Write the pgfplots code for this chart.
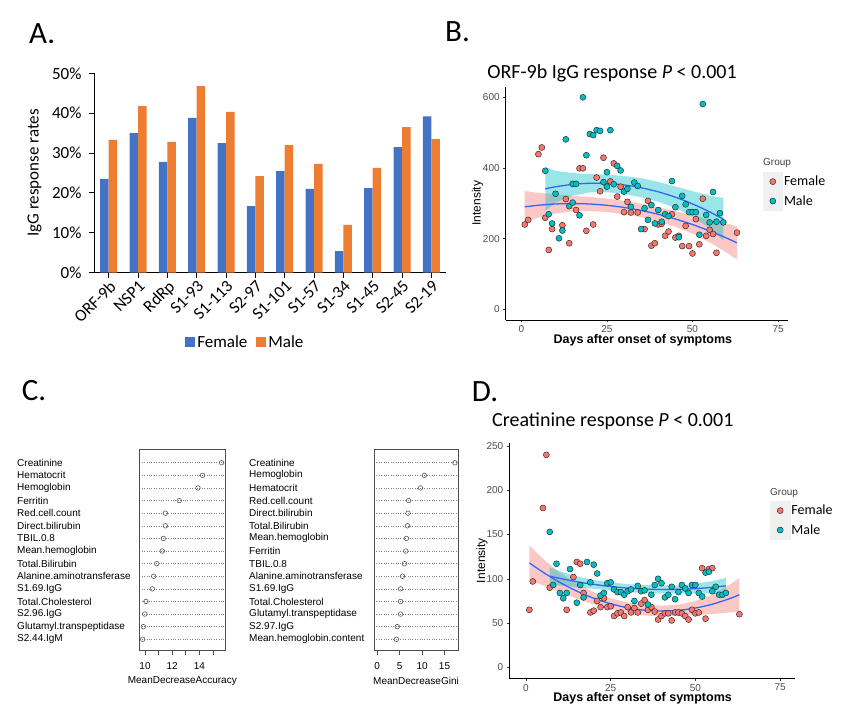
\documentclass[border=0pt]{standalone}
\usepackage{fontspec}
\setmainfont{Liberation Sans}
\newfontfamily\calibri{Carlito}
\newfontfamily\arial{Liberation Sans}
\usepackage{pgfplots}
\pgfplotsset{compat=1.18}
\definecolor{fem}{HTML}{4472C4}
\definecolor{mal}{HTML}{ED7D31}
\definecolor{gF}{HTML}{F8766D}
\definecolor{gM}{HTML}{00BFC4}
\definecolor{fitblue}{HTML}{3366FF}
\newcommand{\fs}[1]{\fontsize{#1}{#1}\selectfont}
\pgfplotsset{
  sqlegend/.style={legend image code/.code={\fill[##1] (0pt,-5pt) rectangle (10pt,5pt);}},
  gglegend/.style={legend image code/.code={\fill[black!6] (0pt,-9.5pt) rectangle (19.6pt,9.5pt);
      \draw[##1] plot coordinates {(9.8pt,0pt)};}},
  ggaxis/.style={scale only axis, anchor=south west,
    axis x line*=bottom, axis y line*=left,
    axis line style={black, line width=0.7pt},
    tick align=outside, major tick length=2.5pt, tick style={black!80, line width=0.6pt},
    xtick={0,25,50,75},
    tick label style={font=\arial\fs{10}, text=black!70},
    /pgf/number format/assume math mode=true,
    xlabel={Days after onset of symptoms},
    ylabel={Intensity},
    legend style={draw=none, fill=none, font=\calibri\fs{14}, anchor=north west,
      row sep=0pt, inner sep=0pt, nodes={inner sep=1.2pt}},
    legend cell align=left},
  ggF/.style={only marks, mark=*, mark size=3pt, mark options={fill=gF, draw=black!85, line width=0.45pt}, gglegend},
  ggM/.style={only marks, mark=*, mark size=3pt, mark options={fill=gM, draw=black!85, line width=0.45pt}, gglegend},
  rfaxis/.style={scale only axis, anchor=south west, height=201pt,
    ymin=0.15, ymax=16.09,
    axis line style={black!70, line width=0.8pt},
    xtick pos=left, tick align=outside, major tick length=5pt,
    xtick style={black!70, line width=0.8pt},
    ytick={1,...,15}, ytick style={draw=none},
    ymajorgrids, grid style={dotted, gray, line width=0.6pt},
    yticklabel style={anchor=west, font=\arial\fs{10}},
    xticklabel style={font=\arial\fs{10}, yshift=-4pt},
    /pgf/number format/assume math mode=true,
    xlabel style={font=\arial\fs{10}, at={(axis description cs:0.5,-0.155)}, anchor=center}},
}
\begin{document}
\begin{tikzpicture}
\useasboundingbox (0pt,0pt) rectangle (850pt,-715pt);
% panel letters
\node[font=\calibri\fs{31}, inner sep=0pt, anchor=base west] at (29pt,-43.3pt) {A.};
\node[font=\calibri\fs{31}, inner sep=0pt, anchor=base west] at (445pt,-41.7pt) {B.};
\node[font=\calibri\fs{31}, inner sep=0pt, anchor=base west] at (21.7pt,-400pt) {C.};
\node[font=\calibri\fs{31}, inner sep=0pt, anchor=base west] at (471.7pt,-401.7pt) {D.};
% titles
\node[font=\calibri\fs{20}, inner sep=0pt, anchor=base] at (612pt,-78.5pt) {ORF-9b IgG response \textit{P} < 0.001};
\node[font=\calibri\fs{20}, inner sep=0pt, anchor=base] at (612.8pt,-426.7pt) {Creatinine response \textit{P} < 0.001};
\node[font=\arial\fs{10}, text=black!75, anchor=west, inner sep=0pt] at (763pt,-163pt) {Group};
\node[font=\arial\fs{10}, text=black!75, anchor=west, inner sep=0pt] at (770pt,-493pt) {Group};

% ---------------- Panel A ----------------
\begin{axis}[
  at={(94pt,-272.7pt)}, anchor=south west, scale only axis,
  width=352pt, height=199.4pt,
  xmin=-0.5, xmax=11.5, ymin=0, ymax=50,
  ybar=0pt, bar width=8.5pt,
  axis x line*=bottom, axis y line*=left,
  axis line style={black, line width=1pt},
  tick align=outside, major tick length=5pt,
  tick style={black, line width=1pt},
  xtick={0,...,11},
  xticklabels={ORF-9b,NSP1,RdRp,S1-93,S1-113,S2-97,S1-101,S1-57,S1-34,S1-45,S2-45,S2-19},
  xticklabel style={rotate=45, anchor=north east, font=\calibri\fs{17}, inner sep=1pt},
  ytick={0,10,20,30,40,50},
  yticklabels={0\%,10\%,20\%,30\%,40\%,50\%},
  yticklabel style={font=\calibri\fs{17}, xshift=-4pt},
  ylabel={IgG response rates},
  ylabel style={font=\calibri\fs{17}, at={(axis description cs:-0.169,0.5)}, anchor=center},
  legend style={at={(axis description cs:0.430,-0.3475)}, anchor=center, draw=none,
    legend columns=2, font=\calibri\fs{17}, nodes={inner sep=2.5pt},
    /tikz/every even column/.append style={column sep=6pt}},
  sqlegend,
]
\addplot[fill=fem, draw=none, sqlegend] coordinates {
(0,23.5) (1,35.0) (2,27.8) (3,38.8) (4,32.5) (5,16.7) (6,25.5) (7,21.0) (8,5.4) (9,21.2) (10,31.5) (11,39.2)};
\addplot[fill=mal, draw=none, sqlegend] coordinates {
(0,33.3) (1,41.8) (2,32.8) (3,46.8) (4,40.3) (5,24.2) (6,32.0) (7,27.3) (8,12.0) (9,26.3) (10,36.5) (11,33.5)};
\legend{Female,Male}
\end{axis}

% ---------------- Panel B ----------------
\begin{axis}[ggaxis,
  at={(505.7pt,-319.9pt)}, width=282.3pt, height=233.2pt,
  xmin=-4.56, xmax=77.9, ymin=-30, ymax=630,
  ytick={0,200,400,600},
  xlabel style={font=\arial\bfseries\fs{12.5}, at={(axis description cs:0.486,-0.0862)}, anchor=center},
  ylabel style={font=\arial\fs{12}, at={(axis description cs:-0.0995,0.5)}, anchor=center},
  legend style={at={(axis description cs:0.910,0.6355)}},
]
\addplot[ggF] coordinates {
(1,240) (2,253) (5,439) (6,458) (7,259) (8,168) (9,227) (12,238) (13,312) (14,187)
(16,281) (17,399) (18,399) (19,222) (21,240) (22,373) (23,334) (24,429) (26,362) (27,413)
(28,319) (29,347) (30,275) (31,304) (32,274) (34,274) (36,227) (37,307) (38,180) (39,187)
(40,240) (41,242) (42,208) (43,220) (44,269) (45,203) (46,208) (47,179) (48,236) (49,179)
(50,158) (51,255) (52,184) (53,313) (54,208) (55,225) (56,213) (57,160) (63,217)};
\addplot[ggM] coordinates {
(7,392) (8,269) (9,243) (10,327) (11,201) (12,223) (13,481) (14,292) (15,355) (15,302)
(16,355) (17,266) (18,600) (19,436) (20,496) (21,493) (22,507) (23,505) (24,360) (25,388)
(25,347) (26,507) (27,354) (28,406) (29,393) (30,333) (31,341) (32,290) (33,359) (34,349)
(35,227) (36,286) (37,253) (38,295) (39,243) (40,281) (41,248) (42,269) (43,264) (44,363)
(45,289) (46,204) (47,321) (48,297) (49,275) (50,275) (51,275) (52,211) (53,581) (54,267)
(55,246) (56,332) (57,248) (58,272) (59,246)};
\legend{Female,Male}
% confidence bands (upper then lower reversed)
\addplot[fill=gF, fill opacity=0.4, draw=none, forget plot] coordinates {
(1,335) (5,329.5) (10,325.1) (15,321.2) (20,318) (25,313.3) (30,307.3) (35,298.8) (40,288.9)
(45,277.6) (50,266) (55,253.9) (60,242.4) (63,235)
(63,141) (60,160.4) (55,189.9) (50,214) (45,233.6) (40,248.9) (35,260.8) (30,269.3) (25,275.3)
(20,278) (15,277.2) (10,271.1) (5,259.5) (1,245)} -- cycle;
\addplot[fill=gM, fill opacity=0.4, draw=none, forget plot] coordinates {
(7,403) (10,391.8) (15,385.6) (20,382.8) (25,381.2) (30,377) (35,371.1) (40,360.5) (45,347.3)
(50,334.3) (55,321.7) (59,315)
(59,195) (55,229.7) (50,262.3) (45,287.3) (40,304.5) (35,317.1) (30,327) (25,331.2) (20,330.8)
(15,321.6) (10,301.8) (7,279)} -- cycle;
\addplot[fitblue, line width=1.3pt, smooth, forget plot] coordinates {
(1,290) (5,294.5) (10,298.1) (15,299.2) (20,298) (25,294.3) (30,288.3) (35,279.8) (40,268.9)
(45,255.6) (50,240) (55,221.9) (60,201.4) (63,188)};
\addplot[fitblue, line width=1.3pt, smooth, forget plot] coordinates {
(7,341) (10,346.8) (15,353.6) (20,356.8) (25,356.2) (30,352) (35,344.1) (40,332.5) (45,317.3)
(50,298.3) (55,275.7) (59,255)};
\end{axis}

% ---------------- Panel C (accuracy) ----------------
\begin{axis}[rfaxis,
  at={(139.3pt,-650pt)}, width=86pt,
  xmin=9.58, xmax=15.91,
  xtick={10,...,15}, xticklabels={10,,12,,14,},
  yticklabels={S2.44.IgM,Glutamyl.transpeptidase,S2.96.IgG,Total.Cholesterol,S1.69.IgG,Alanine.aminotransferase,Total.Bilirubin,Mean.hemoglobin,TBIL.0.8,Direct.bilirubin,Red.cell.count,Ferritin,Hemoglobin,Hematocrit,Creatinine},
  yticklabel style={xshift=-120.6pt},
  xlabel={MeanDecreaseAccuracy},
]
\addplot[only marks, mark=o, mark size=2.3pt, black!65, line width=0.6pt] coordinates {
(15.64,15) (14.24,14) (13.9,13) (12.52,12) (11.5,11) (11.5,10) (11.35,9) (11.27,8)
(10.86,7) (10.64,6) (10.54,5) (10.07,4) (9.98,3) (9.88,2) (9.83,1)};
\end{axis}

% ---------------- Panel C (Gini) ----------------
\begin{axis}[rfaxis,
  at={(374pt,-650pt)}, width=84pt,
  xmin=-0.69, xmax=17.99,
  xtick={0,5,10,15},
  yticklabels={Mean.hemoglobin.content,S2.97.IgG,Glutamyl.transpeptidase,Total.Cholesterol,S1.69.IgG,Alanine.aminotransferase,TBIL.0.8,Ferritin,Mean.hemoglobin,Total.Bilirubin,Direct.bilirubin,Red.cell.count,Hematocrit,Hemoglobin,Creatinine},
  yticklabel style={xshift=-123.3pt},
  xlabel={MeanDecreaseGini},
]
\addplot[only marks, mark=o, mark size=2.3pt, black!65, line width=0.6pt] coordinates {
(17.3,15) (10.5,14) (9.64,13) (7.03,12) (6.88,11) (6.74,10) (6.52,9) (6.38,8)
(6.09,7) (5.65,6) (5.22,5) (5.22,4) (5.22,3) (4.49,2) (4.28,1)};
\end{axis}

% ---------------- Panel D ----------------
\begin{axis}[ggaxis,
  at={(509.3pt,-678pt)}, width=286pt, height=234.7pt,
  xmin=-4.93, xmax=79.5, ymin=-12.05, ymax=253.05,
  ytick={0,50,100,150,200,250},
  xlabel style={font=\arial\bfseries\fs{12.5}, at={(axis description cs:0.466,-0.0852)}, anchor=center},
  ylabel style={font=\arial\fs{12}, at={(axis description cs:-0.0955,0.5)}, anchor=center},
  legend style={at={(axis description cs:0.9115,0.7554)}},
]
\addplot[ggF] coordinates {
(1,65) (2,97) (5,180) (6,240) (7,90) (12,65) (14,102) (15,119) (16,117) (17,84)
(19,62) (20,64) (21,75) (22,68) (23,78) (24,68) (25,69) (26,58) (27,61) (28,62)
(29,58) (30,68) (31,62) (32,67) (33,62) (34,72) (35,76) (36,65) (37,68) (38,63)
(39,54) (40,58) (41,61) (42,61) (43,53) (44,62) (45,62) (46,61) (47,58) (48,54)
(49,65) (50,61) (51,62) (52,112) (53,55) (54,111) (55,112) (63,60)};
\addplot[ggM] coordinates {
(7,153) (8,93) (9,117) (10,84) (11,78) (12,84) (13,111) (15,73) (16,93) (17,79)
(18,119) (19,96) (20,116) (21,106) (22,81) (23,84) (24,95) (25,96) (26,88) (27,85)
(28,85) (29,82) (30,86) (31,88) (32,75) (33,92) (34,86) (35,87) (36,71) (37,82)
(38,93) (39,100) (40,95) (41,79) (42,82) (43,91) (44,77) (45,85) (46,93) (47,89)
(48,84) (49,93) (50,93) (51,84) (52,80) (53,107) (54,108) (55,86) (56,91) (57,82)
(58,82) (59,84)};
\legend{Female,Male}
\addplot[fill=gF, fill opacity=0.4, draw=none, forget plot] coordinates {
(1,137.5) (5,122.5) (10,106.9) (15,94.6) (20,85) (25,77.8) (30,73.3) (35,70.5) (40,69.6)
(45,70.9) (50,75) (55,82.3) (60,93) (63,101)
(63,63) (60,62) (55,60.3) (50,59) (45,57.9) (40,57.6) (35,58.5) (30,61.3) (25,65.8)
(20,71) (15,77.6) (10,84.9) (5,92.5) (1,98.5)} -- cycle;
\addplot[fill=gM, fill opacity=0.4, draw=none, forget plot] coordinates {
(7,113) (10,108.5) (15,102.7) (20,98.7) (25,95.8) (30,94) (35,92.9) (40,92.4) (45,92.6)
(50,94.4) (55,97.4) (59,101)
(59,83) (55,83.4) (50,83.4) (45,83.6) (40,83.4) (35,83.9) (30,85) (25,86.8) (20,88.7)
(15,90.7) (10,92.5) (7,93)} -- cycle;
\addplot[fitblue, line width=1.3pt, smooth, forget plot] coordinates {
(1,118) (5,107.5) (10,95.9) (15,86.1) (20,78) (25,71.8) (30,67.3) (35,64.5) (40,63.6)
(45,64.4) (50,67) (55,71.3) (60,77.5) (63,82)};
\addplot[fitblue, line width=1.3pt, smooth, forget plot] coordinates {
(7,103) (10,100.5) (15,96.7) (20,93.7) (25,91.3) (30,89.5) (35,88.4) (40,87.9) (45,88.1)
(50,88.9) (55,90.4) (59,92)};
\end{axis}
\end{tikzpicture}
\end{document}
